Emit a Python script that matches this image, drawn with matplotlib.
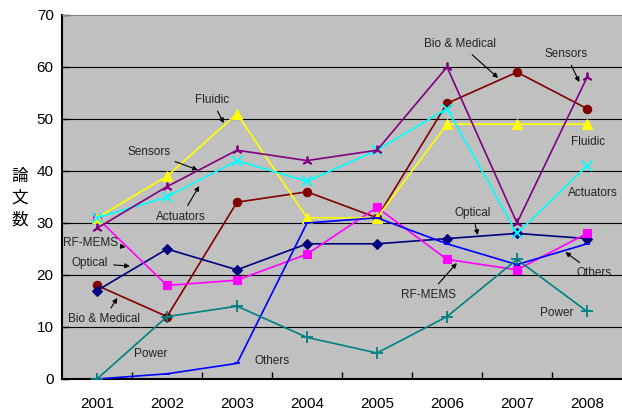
import matplotlib
matplotlib.use("Agg")
import matplotlib.pyplot as plt

plt.rcParams['font.family'] = ['Liberation Sans', 'DejaVu Sans']

# Data
years = ["2001", "2002", "2003", "2004", "2005", "2006", "2007", "2008"]

bio_medical = [18, 12, 34, 36, 31, 53, 59, 52]
sensors = [29, 37, 44, 42, 44, 60, 30, 58]
fluidic = [31, 39, 51, 31, 31, 49, 49, 49]
actuators = [31, 35, 42, 38, 44, 52, 28, 41]
optical = [17, 25, 21, 26, 26, 27, 28, 27]
rf_mems = [31, 18, 19, 24, 33, 23, 21, 28]
power = [0, 12, 14, 8, 5, 12, 23, 13]
others = [0, 1, 3, 30, 31, 26, 22, 26]

series = [
    ("Bio & Medical", bio_medical, "#800000", "o", 6),
    ("Optical", optical, "#000080", "D", 5),
    ("RF-MEMS", rf_mems, "#FF00FF", "s", 6),
    ("Fluidic", fluidic, "#FFFF00", "^", 7),
    ("Actuators", actuators, "#00FFFF", "x", 7),
    ("Sensors", sensors, "#800080", (3, 2, 0), 7),
    ("Others", others, "#0000FF", "_", 5),
    ("Power", power, "#008080", "+", 8),
]

fig = plt.figure(figsize=(6.22, 4.17), dpi=100)
ax = fig.add_axes([62 / 622, 1 - 379 / 417, 560 / 622, 364 / 417])
ax.set_facecolor("#C0C0C0")

x = list(range(len(years)))
for name, vals, color, marker, ms in series:
    thin = marker in ("o", "D", "s", "^")
    ax.plot(x, vals, color=color, lw=1.2, marker=marker, markersize=ms,
            markeredgewidth=0.8 if thin else 1.3,
            markeredgecolor=color, markerfacecolor=color, zorder=3)

ax.set_xlim(-0.5, len(years) - 0.5)
ax.set_ylim(0, 70)
ax.set_yticks(range(0, 71, 10))
ax.set_xticks(x)
ax.set_xticklabels(years)
ax.set_xticks([i + 0.5 for i in range(len(years) - 1)], minor=True)
ax.tick_params(axis="x", which="major", length=0, labelsize=11, pad=13)
ax.tick_params(axis="x", which="minor", direction="in", length=5, width=1, color="black")
ax.tick_params(axis="y", direction="in", length=5, width=1, labelsize=11, pad=6)

for v in range(10, 70, 10):
    ax.axhline(v, color="black", lw=0.8, zorder=1)

ax.spines["left"].set_linewidth(1.5)
ax.spines["bottom"].set_linewidth(1.5)
ax.spines["top"].set_color("#808080")
ax.spines["right"].set_visible(False)

# Annotations: (label, text pos, arrow tip or None, horizontal alignment)
notes = [
    ("Fluidic", (1.64, 53.7), (1.81, 49.2), "center"),
    ("Sensors", (0.74, 43.7), (1.44, 40.2), "center"),
    ("Actuators", (1.20, 31.2), (1.46, 37.1), "center"),
    ("RF-MEMS", (-0.49, 26.2), (0.41, 25.4), "left"),
    ("Optical", (-0.10, 22.3), (0.47, 21.7), "center"),
    ("Bio & Medical", (0.10, 11.5), (0.29, 15.6), "center"),
    ("Power", (0.76, 4.8), None, "center"),
    ("Others", (2.50, 3.5), None, "center"),
    ("Bio & Medical", (5.19, 64.4), (5.73, 57.9), "center"),
    ("Sensors", (6.70, 62.5), (6.89, 57.1), "center"),
    ("Fluidic", (7.01, 45.6), None, "center"),
    ("Actuators", (7.09, 35.8), None, "center"),
    ("Optical", (5.36, 31.9), (5.44, 27.7), "center"),
    ("RF-MEMS", (4.74, 16.2), (5.14, 22.3), "center"),
    ("Others", (7.10, 20.4), (6.69, 24.4), "center"),
    ("Power", (6.57, 12.7), None, "center"),
]
for label, pos, tip, ha in notes:
    if tip is None:
        ax.text(pos[0], pos[1], label, fontsize=8.5, color="#222222",
                ha=ha, va="center", zorder=5)
    else:
        ax.annotate(label, xy=tip, xytext=pos, fontsize=8.5, color="#222222",
                    ha=ha, va="center", zorder=5,
                    arrowprops=dict(arrowstyle="-|>", color="black", lw=0.8,
                                    mutation_scale=7, shrinkA=2, shrinkB=0))

fig.text(20 / 622, 1 - 198 / 417, "論\n文\n数", fontsize=12,
         family=["Noto Sans CJK JP", "DejaVu Sans"], ha="center", va="center",
         linespacing=1.35)

fig.savefig("out.png", dpi=100)
